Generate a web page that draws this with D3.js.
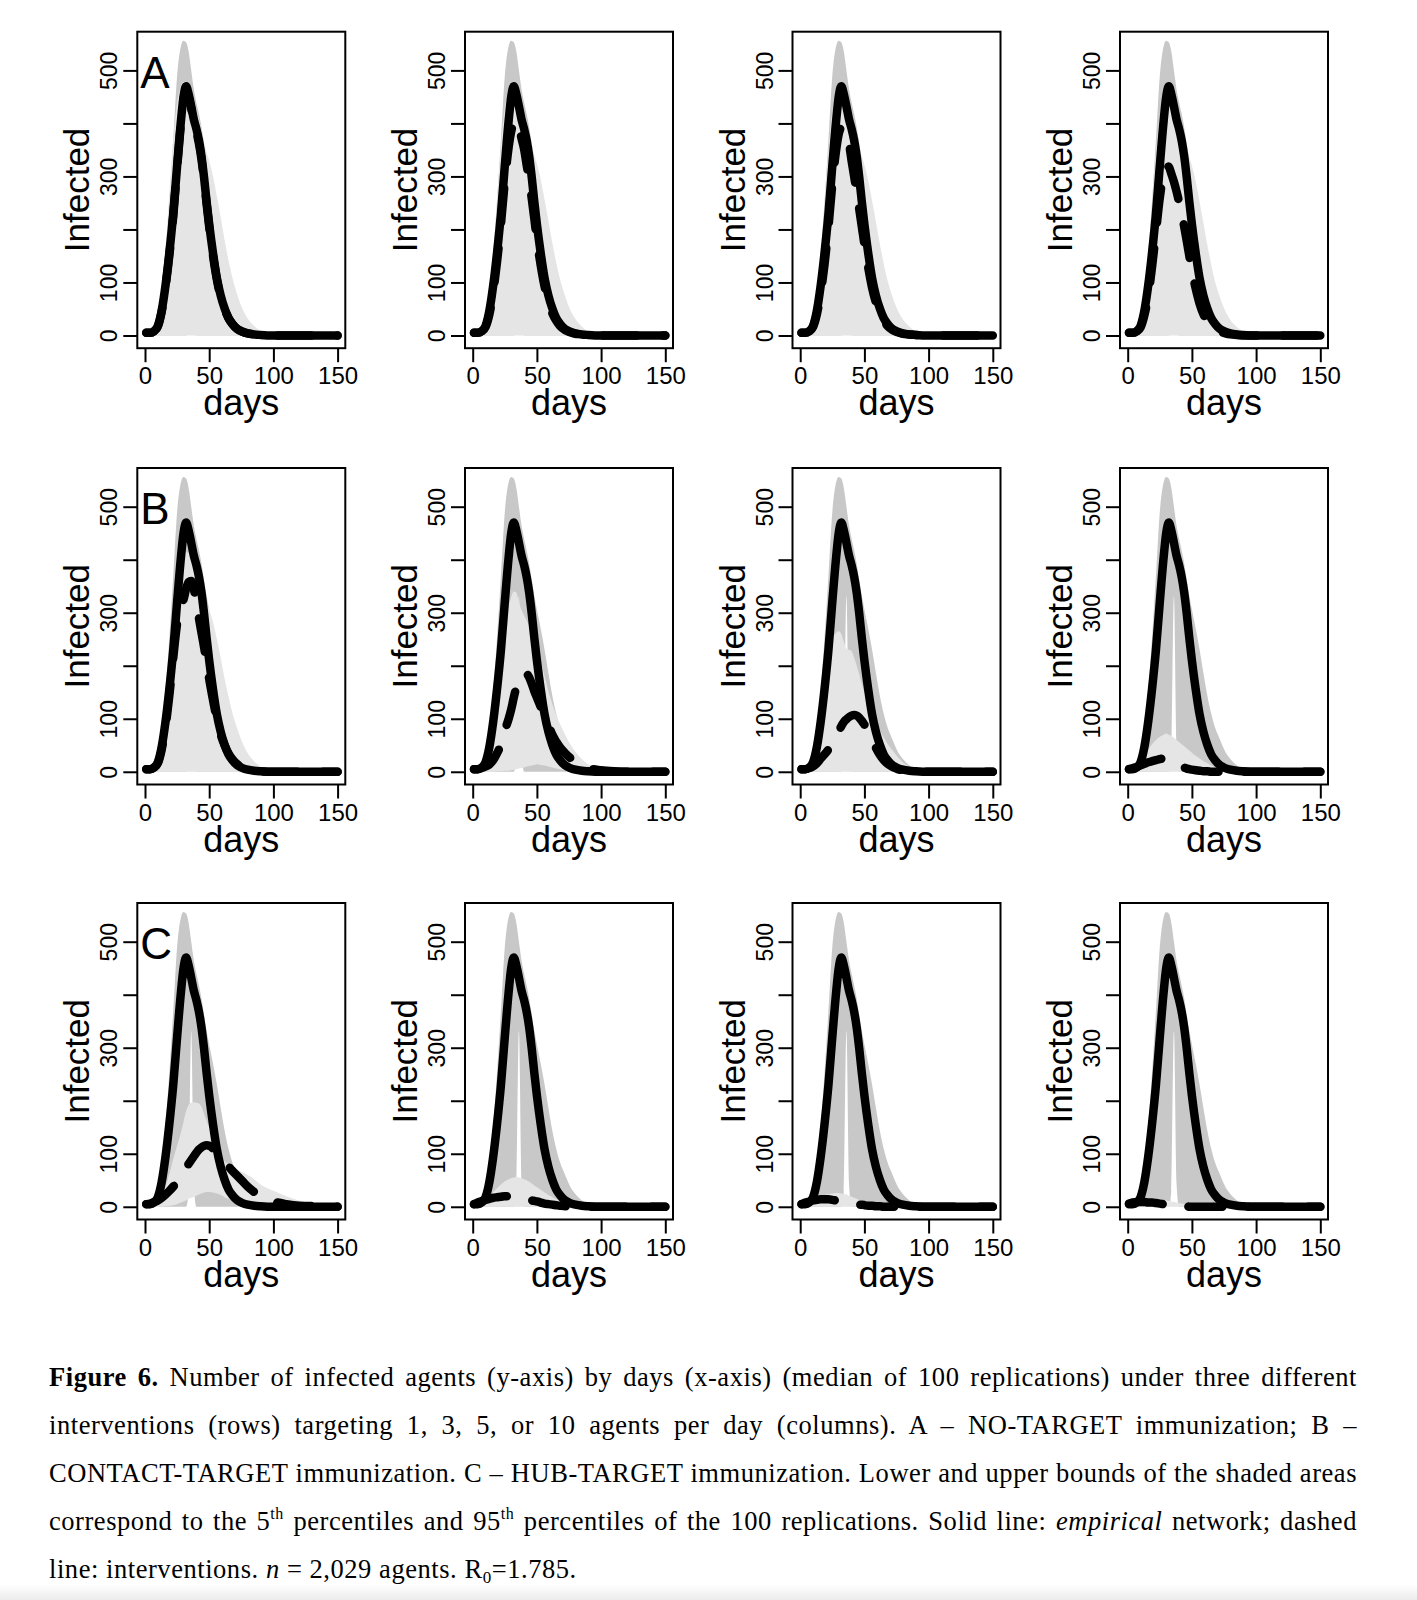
<!DOCTYPE html>
<html>
<head>
<meta charset="utf-8">
<script src="https://cdn.jsdelivr.net/npm/d3@7"></script>
<style>
  body { margin: 0; background: #fff; }
  svg { display: block; }
</style>
</head>
<body>
<svg id="fig" width="1417" height="1600"></svg>
<script>
const days = [1, 4, 7, 10, 13, 16, 19, 22, 25, 28, 30, 32, 34, 36, 38, 40, 42, 44, 46, 48,
  50, 53, 56, 59, 62, 65, 68, 72, 76, 80, 85, 90, 100, 110, 120, 135, 150]

// empirical network (same in every panel): median, 5th and 95th percentile
const empMedian = [5, 5, 8, 18, 47, 95, 157, 230, 320, 405, 450, 470, 455, 432, 408, 390, 368, 338, 298, 252,
  210, 155, 108, 75, 51, 33, 22, 12, 7, 4, 2, 1, 0, 0, 0, 0, 0]
const empUpper = [8, 10, 15, 30, 76, 155, 255, 370, 490, 546, 556, 553, 535, 500, 465, 440, 418, 393, 362, 332,
  306, 270, 230, 186, 144, 110, 84, 60, 38, 24, 12, 5, 1, 0, 0, 0, 0]
const empLower = [0, 0, 0, 0, 0, 0, 0, 0, 0, 0, 0, 0, 30, 332, 45, 0, 0, 0, 0, 0,
  0, 0, 0, 0, 0, 0, 0, 0, 0, 0, 0, 0, 0, 0, 0, 0, 0]

// interventions: medians (dashed) and 95th percentiles
const dA1 = [5, 5, 8, 17, 45, 92, 152, 225, 315, 400, 445, 462, 450, 428, 405, 385, 362, 332, 292, 248,
  205, 150, 105, 72, 50, 33, 22, 12, 7, 4, 2, 1, 0, 0, 0, 0, 0]
const hiA1 = [6, 8, 14, 28, 80, 165, 270, 370, 440, 470, 478, 476, 468, 455, 440, 425, 408, 388, 365, 345,
  330, 300, 262, 222, 180, 142, 110, 76, 50, 32, 18, 9, 2, 0, 0, 0, 0]
const dA2 = [5, 5, 8, 16, 40, 82, 140, 210, 290, 355, 385, 400, 405, 392, 372, 352, 322, 292, 258, 220,
  180, 132, 92, 62, 42, 28, 18, 10, 6, 3, 2, 1, 0, 0, 0, 0, 0]
const hiA2 = [6, 8, 13, 26, 75, 158, 260, 358, 428, 458, 466, 465, 458, 446, 432, 418, 402, 382, 360, 340,
  324, 294, 256, 216, 175, 138, 106, 74, 48, 31, 17, 8, 2, 0, 0, 0, 0]
const dA3 = [5, 5, 8, 16, 40, 80, 135, 205, 285, 350, 380, 392, 390, 378, 362, 330, 300, 270, 238, 205,
  172, 128, 90, 62, 42, 28, 18, 10, 6, 3, 2, 1, 0, 0, 0, 0, 0]
const hiA3 = [6, 8, 13, 25, 72, 152, 252, 350, 420, 452, 462, 462, 455, 443, 430, 416, 400, 380, 358, 338,
  322, 292, 254, 214, 173, 136, 104, 72, 47, 30, 17, 8, 2, 0, 0, 0, 0]
const dA4 = [5, 5, 8, 15, 38, 75, 130, 195, 260, 305, 320, 318, 305, 290, 272, 252, 230, 205, 178, 150,
  122, 88, 60, 40, 27, 18, 12, 7, 4, 2, 1, 0, 0, 0, 0, 0, 0]
const hiA4 = [6, 8, 13, 25, 70, 150, 248, 345, 415, 448, 458, 458, 452, 440, 428, 414, 398, 378, 356, 336,
  320, 290, 252, 212, 171, 134, 102, 71, 46, 29, 16, 8, 2, 0, 0, 0, 0]

const dB1 = [5, 5, 8, 16, 42, 85, 145, 215, 280, 318, 325, 345, 358, 360, 345, 318, 290, 262, 235, 205,
  175, 135, 98, 70, 50, 35, 24, 14, 8, 4, 2, 1, 0, 0, 0, 0, 0]
const hiB1 = [6, 8, 13, 24, 62, 136, 228, 318, 378, 402, 410, 414, 413, 405, 395, 382, 368, 352, 336, 320,
  306, 282, 250, 214, 176, 142, 112, 80, 54, 35, 20, 10, 3, 1, 0, 0, 0]
const dB2 = [5, 5, 7, 10, 14, 22, 35, 52, 78, 100, 118, 140, 160, 175, 183, 186, 185, 178, 166, 152,
  140, 122, 105, 88, 70, 57, 46, 35, 26, 19, 12, 7, 3, 1, 0, 0, 0]
const hiB2 = [6, 8, 12, 20, 40, 75, 130, 200, 265, 310, 330, 340, 338, 320, 305, 295, 285, 275, 262, 248,
  235, 210, 180, 152, 128, 108, 90, 70, 52, 38, 24, 14, 5, 1, 0, 0, 0]
const loB2 = [0, 0, 0, 0, 0, 0, 1, 1, 2, 2, 3, 4, 5, 6, 7, 8, 10, 11, 12, 13,
  14, 13, 12, 10, 8, 6, 5, 3, 2, 1, 1, 0, 0, 0, 0, 0, 0]
const dB3 = [5, 5, 7, 10, 16, 25, 33, 42, 52, 65, 76, 86, 94, 99, 103, 106, 107, 106, 102, 96,
  89, 75, 60, 45, 32, 22, 15, 9, 5, 3, 2, 1, 0, 0, 0, 0, 0]
const hiB3 = [5, 6, 9, 14, 28, 60, 120, 200, 250, 262, 265, 260, 245, 232, 230, 228, 215, 200, 183, 165,
  150, 130, 112, 95, 78, 65, 53, 40, 28, 18, 10, 5, 1, 0, 0, 0, 0]
const dB4 = [5, 7, 9, 12, 15, 18, 20, 22, 24, 25, 25, 24, 22, 19, 16, 13, 10, 8, 6, 5,
  4, 3, 2, 1, 1, 0, 0, 0, 0, 0, 0, 0, 0, 0, 0, 0, 0]
const hiB4 = [5, 8, 12, 20, 30, 42, 52, 60, 66, 70, 72, 70, 68, 64, 60, 56, 52, 48, 44, 40,
  36, 30, 25, 20, 16, 12, 9, 6, 4, 2, 1, 0, 0, 0, 0, 0, 0]

const dC1 = [5, 6, 9, 12, 17, 23, 30, 38, 47, 58, 66, 74, 81, 88, 95, 102, 108, 112, 115, 116,
  115, 110, 100, 92, 84, 76, 68, 58, 48, 38, 28, 20, 10, 5, 2, 1, 0]
const hiC1 = [5, 7, 10, 13, 20, 38, 62, 90, 115, 140, 160, 180, 192, 196, 197, 196, 195, 188, 175, 162,
  150, 130, 112, 97, 86, 80, 76, 70, 65, 60, 52, 42, 30, 20, 12, 5, 1]
const loC1 = [0, 0, 0, 0, 0, 1, 2, 3, 5, 8, 10, 12, 15, 17, 19, 21, 23, 25, 27, 28,
  28, 27, 25, 22, 18, 15, 12, 8, 5, 3, 2, 1, 0, 0, 0, 0, 0]
const dC2 = [5, 8, 11, 13, 15, 17, 18, 19, 20, 20, 20, 20, 19, 18, 17, 16, 15, 14, 12, 11,
  10, 8, 6, 5, 4, 3, 2, 1, 1, 0, 0, 0, 0, 0, 0, 0, 0]
const hiC2 = [5, 9, 13, 17, 22, 28, 35, 42, 48, 52, 54, 55, 56, 55, 54, 52, 50, 47, 44, 40,
  37, 32, 27, 22, 18, 14, 11, 8, 5, 3, 2, 1, 0, 0, 0, 0, 0]
const dC3 = [5, 8, 10, 12, 13, 14, 14, 14, 13, 12, 12, 11, 10, 9, 8, 7, 6, 5, 4, 4,
  3, 2, 2, 1, 1, 0, 0, 0, 0, 0, 0, 0, 0, 0, 0, 0, 0]
const hiC3 = [5, 9, 12, 15, 18, 20, 22, 24, 25, 26, 26, 25, 24, 23, 21, 19, 17, 15, 13, 11,
  9, 7, 5, 4, 3, 2, 1, 1, 0, 0, 0, 0, 0, 0, 0, 0, 0]
const dC4 = [6, 8, 9, 9, 9, 8, 8, 7, 6, 5, 5, 4, 3, 3, 2, 2, 1, 1, 1, 0,
  0, 0, 0, 0, 0, 0, 0, 0, 0, 0, 0, 0, 0, 0, 0, 0, 0]
const hiC4 = [5, 8, 10, 12, 13, 14, 14, 14, 13, 12, 12, 11, 10, 9, 8, 7, 6, 5, 4, 3,
  3, 2, 2, 1, 1, 0, 0, 0, 0, 0, 0, 0, 0, 0, 0, 0, 0]

// 5th percentile of the interventions where it is flat on the floor
const loZero = [0, 0, 0, 0, 0, 0, 0, 0, 0, 0, 0, 0, 0, 0, 0, 0, 0, 0, 0, 0,
  0, 0, 0, 0, 0, 0, 0, 0, 0, 0, 0, 0, 0, 0, 0, 0, 0]

const xTicks = [0, 50, 100, 150]
const yTicks = [0, 100, 200, 300, 400, 500]
const yLabels = [0, 100, 300, 500]
const rowLetters = ['A', 'B', 'C']

const panels = [
  { row: 0, col: 0, med: dA1, lo: loZero, hi: hiA1 },
  { row: 0, col: 1, med: dA2, lo: loZero, hi: hiA2 },
  { row: 0, col: 2, med: dA3, lo: loZero, hi: hiA3 },
  { row: 0, col: 3, med: dA4, lo: loZero, hi: hiA4 },
  { row: 1, col: 0, med: dB1, lo: loZero, hi: hiB1 },
  { row: 1, col: 1, med: dB2, lo: loB2, hi: hiB2 },
  { row: 1, col: 2, med: dB3, lo: loZero, hi: hiB3 },
  { row: 1, col: 3, med: dB4, lo: loZero, hi: hiB4 },
  { row: 2, col: 0, med: dC1, lo: loC1, hi: hiC1 },
  { row: 2, col: 1, med: dC2, lo: loZero, hi: hiC2 },
  { row: 2, col: 2, med: dC3, lo: loZero, hi: hiC3 },
  { row: 2, col: 3, med: dC4, lo: loZero, hi: hiC4 }
]

const captionLines = [
  [['Figure 6.', 'b'], [' Number of infected agents (y-axis) by days (x-axis) (median of 100 replications) under three different', '']],
  [['interventions (rows) targeting 1, 3, 5, or 10 agents per day (columns). A \u2013 NO-TARGET immunization; B \u2013', '']],
  [['CONTACT-TARGET immunization. C \u2013 HUB-TARGET immunization. Lower and upper bounds of the shaded areas', '']],
  [['correspond to the 5', ''], ['th', 'sup'], [' percentiles and 95', ''], ['th', 'sup'],
   [' percentiles of the 100 replications. Solid line: ', ''], ['empirical', 'i'], [' network; dashed', '']],
  [['line: interventions. ', ''], ['n', 'i'], [' = 2,029 agents. R', ''], ['0', 'sub'], ['=1.785.', '']]
]

const sans = '"Liberation Sans", Arial, sans-serif'
const serif = '"Liberation Serif", "Times New Roman", serif'

const svg = d3.select('#fig')
const boxW = 208, boxH = 316.5
const colX = [137.3, 465, 792.5, 1120]
const rowY = [31.7, 468, 903]

const x = d3.scaleLinear().domain([-6, 156]).range([0, boxW])
const y = d3.scaleLinear().domain([-24, 573]).range([boxH, 0])

const band = (lo, hi) => d3.area()
  .x((d, i) => x(days[i]))
  .y0((d, i) => y(lo[i]))
  .y1((d, i) => y(hi[i]))
  .curve(d3.curveMonotoneX)(days)

const curve = d3.line()
  .x((d, i) => x(days[i]))
  .y(d => y(d))
  .curve(d3.curveMonotoneX)

panels.forEach((p, k) => {
  const g = svg.append('g')
    .attr('transform', `translate(${colX[p.col]},${rowY[p.row]})`)

  svg.append('clipPath').attr('id', 'clip' + k)
    .append('rect').attr('width', boxW).attr('height', boxH)

  const plot = g.append('g').attr('clip-path', `url(#clip${k})`)

  // shaded areas: empirical band underneath, intervention band on top
  plot.append('path').attr('d', band(empLower, empUpper)).attr('fill', '#c8c8c8')
  plot.append('path').attr('d', band(p.lo, p.hi)).attr('fill', '#e5e5e5')

  plot.append('path').datum(empMedian)
    .attr('d', curve)
    .attr('fill', 'none').attr('stroke', '#000').attr('stroke-width', 8.5)
    .attr('stroke-linecap', 'round').attr('stroke-linejoin', 'round')

  plot.append('path').datum(p.med)
    .attr('d', curve)
    .attr('fill', 'none').attr('stroke', '#000').attr('stroke-width', 8.5)
    .attr('stroke-dasharray', '34,26')
    .attr('stroke-linecap', 'round').attr('stroke-linejoin', 'round')

  g.append('rect')
    .attr('width', boxW).attr('height', boxH)
    .attr('fill', 'none').attr('stroke', '#000').attr('stroke-width', 2)

  // x axis
  const xa = g.append('g')
    .attr('transform', `translate(0,${boxH})`)
    .call(d3.axisBottom(x).tickValues(xTicks).tickSize(14).tickFormat(d3.format('d')))
  xa.select('.domain').remove()
  xa.selectAll('line').attr('stroke-width', 2)
  xa.attr('font-family', sans).attr('font-size', 24)
  xa.selectAll('text').attr('y', 36).attr('dy', 0).attr('fill', '#000')

  // y axis, labels turned like R's las = 0
  const ya = g.append('g')
    .call(d3.axisLeft(y).tickValues(yTicks).tickSize(14)
      .tickFormat(d => yLabels.includes(d) ? d : ''))
  ya.select('.domain').remove()
  ya.selectAll('line').attr('stroke-width', 2)
  ya.attr('font-family', sans).attr('font-size', 23)
  ya.selectAll('text')
    .attr('x', 0).attr('dy', 0)
    .attr('text-anchor', 'middle')
    .attr('transform', 'translate(-20,0) rotate(-90)')
    .attr('fill', '#000')

  g.append('text')
    .attr('transform', `translate(-48,${boxH / 2}) rotate(-90)`)
    .attr('text-anchor', 'middle')
    .attr('font-family', sans).attr('font-size', 35)
    .text('Infected')

  g.append('text')
    .attr('x', boxW / 2).attr('y', boxH + 67)
    .attr('text-anchor', 'middle')
    .attr('font-family', sans).attr('font-size', 36)
    .text('days')

  if (p.col === 0) {
    g.append('text')
      .attr('x', 3).attr('y', 56)
      .attr('font-family', sans).attr('font-size', 44)
      .text(rowLetters[p.row])
  }
})

// caption, justified line by line like the printed figure
const capLeft = 49, capWidth = 1308, capTop = 1386, capStep = 48
captionLines.forEach((parts, li) => {
  const t = svg.append('text')
    .attr('x', capLeft).attr('y', capTop + li * capStep)
    .attr('font-family', serif).attr('font-size', 26.5)
    .style('letter-spacing', '0.55px')
    .style('white-space', 'pre')
  let shift = 0
  parts.forEach(([str, kind]) => {
    const s = t.append('tspan').text(str)
    let dy = 0
    if (kind === 'b') s.attr('font-weight', 'bold')
    if (kind === 'i') s.attr('font-style', 'italic')
    if (kind === 'sup') { s.attr('font-size', 16); dy = -11 }
    if (kind === 'sub') { s.attr('font-size', 17); dy = 5 }
    if (dy - shift !== 0) s.attr('dy', dy - shift)
    shift = dy
  })
  if (li < captionLines.length - 1) {
    const w = t.node().getComputedTextLength()
    const spaces = parts.map(q => q[0]).join('').split(' ').length - 1
    t.style('word-spacing', ((capWidth - w) / spaces) + 'px')
  }
})

// faint shadow at the foot of the page
const grad = svg.append('defs').append('linearGradient')
  .attr('id', 'foot').attr('x1', 0).attr('y1', 0).attr('x2', 0).attr('y2', 1)
grad.append('stop').attr('offset', 0).attr('stop-color', '#fff')
grad.append('stop').attr('offset', 1).attr('stop-color', '#ececec')
svg.append('rect').attr('x', 0).attr('y', 1584).attr('width', 1417).attr('height', 16)
  .attr('fill', 'url(#foot)')
</script>
</body>
</html>
